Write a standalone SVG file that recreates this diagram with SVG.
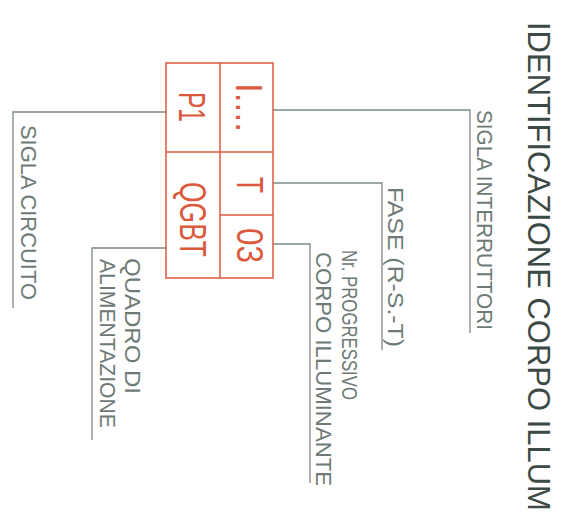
<svg xmlns="http://www.w3.org/2000/svg" width="561" height="515" viewBox="0 0 561 515">
<style>
.lead{fill:none;stroke:#7d8a87;stroke-width:1.3}
.box{fill:none;stroke:#db5a3e;stroke-width:1.5}
.lbl{font-family:"Liberation Sans",Arial,sans-serif;font-size:22px;fill:#6e7a76}
.red{font-family:"Liberation Sans",Arial,sans-serif;font-size:36px;fill:#db5a3e}
.title{font-family:"Liberation Sans",Arial,sans-serif;font-size:32px;fill:#3c4a45}
</style>
<rect width="561" height="515" fill="#ffffff"/>
<g id="connectors">
<polyline class="lead" points="273,110 470,110 470,333"/>
<polyline class="lead" points="273,183 382,183 382,350"/>
<polyline class="lead" points="273,244 310,244 310,483"/>
<polyline class="lead" points="166,112 13,112 13,308"/>
<polyline class="lead" points="166,248 92,248 92,440"/>
</g>
<g id="box">
<rect class="box" x="166" y="63" width="107" height="215"/>
<line class="box" x1="220" y1="63" x2="220" y2="278"/>
<line class="box" x1="166" y1="152" x2="273" y2="152"/>
<line class="box" x1="220" y1="215" x2="273" y2="215"/>
<text class="red" transform="translate(179,92) rotate(90)" textLength="30" lengthAdjust="spacingAndGlyphs">P1</text>
<text class="red" transform="translate(236,83) rotate(90)" textLength="49" lengthAdjust="spacingAndGlyphs">I....</text>
<text class="red" transform="translate(237,177) rotate(90)" textLength="16" lengthAdjust="spacingAndGlyphs">T</text>
<text class="red" transform="translate(180,182) rotate(90)" textLength="75" lengthAdjust="spacingAndGlyphs">QGBT</text>
<text class="red" transform="translate(237,228) rotate(90)" textLength="35" lengthAdjust="spacingAndGlyphs">03</text>
</g>
<g id="title">
<text class="title" transform="translate(528,22) rotate(90) scale(0.87,1)" textLength="562" lengthAdjust="spacingAndGlyphs">IDENTIFICAZIONE CORPO ILLUM</text>
</g>
<g id="sigla-interruttori">
<text class="lbl" transform="translate(477,110) rotate(90)" textLength="220" lengthAdjust="spacingAndGlyphs">SIGLA INTERRUTTORI</text>
</g>
<g id="fase">
<text class="lbl" transform="translate(388,187) rotate(90)" textLength="160" lengthAdjust="spacingAndGlyphs">FASE (R-S.-T)</text>
</g>
<g id="nr-progressivo">
<text class="lbl" transform="translate(342,250) rotate(90)" textLength="150" lengthAdjust="spacingAndGlyphs">Nr. PROGRESSIVO</text>
<text class="lbl" transform="translate(316,252) rotate(90)" textLength="234" lengthAdjust="spacingAndGlyphs">CORPO ILLUMINANTE</text>
</g>
<g id="sigla-circuito">
<text class="lbl" transform="translate(21,125) rotate(90)" textLength="175" lengthAdjust="spacingAndGlyphs">SIGLA CIRCUITO</text>
</g>
<g id="quadro">
<text class="lbl" transform="translate(125,258) rotate(90)" textLength="136" lengthAdjust="spacingAndGlyphs">QUADRO DI</text>
<text class="lbl" transform="translate(100,259) rotate(90)" textLength="169" lengthAdjust="spacingAndGlyphs">ALIMENTAZIONE</text>
</g>
</svg>
